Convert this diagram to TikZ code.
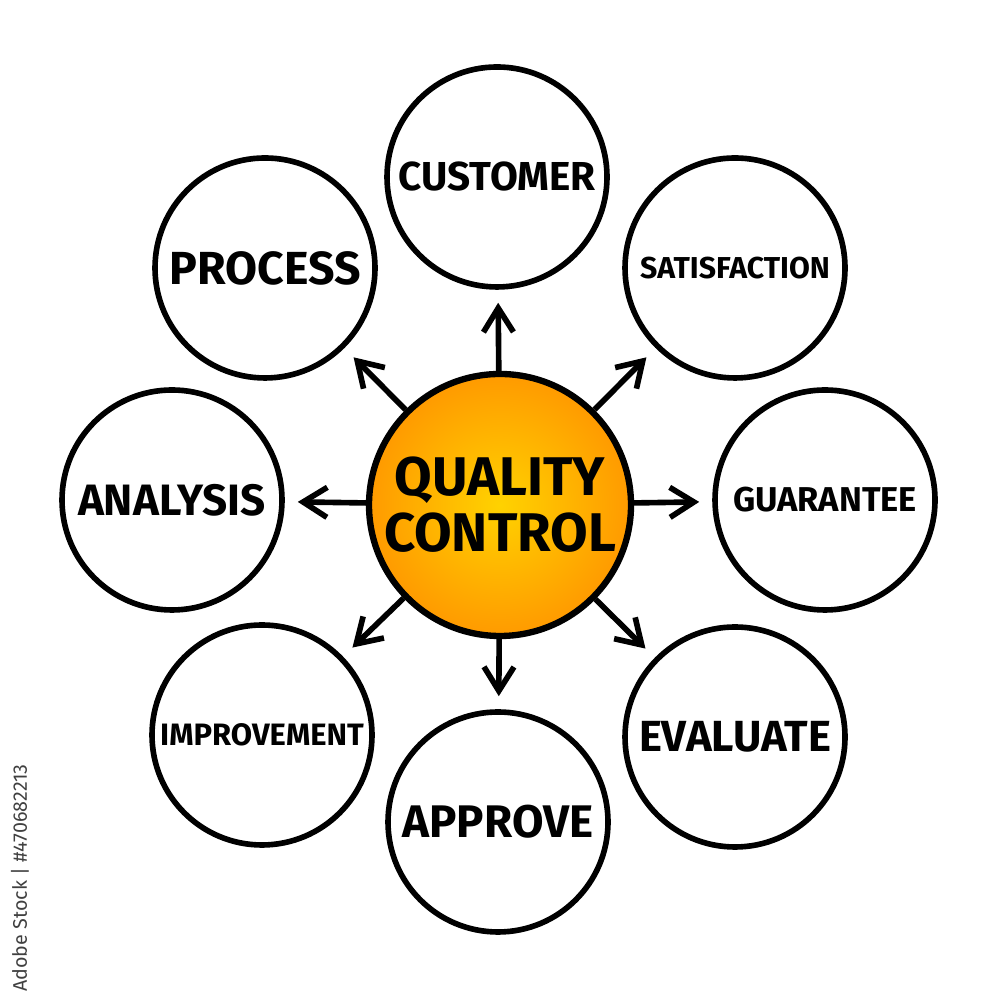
\documentclass[tikz,border=0pt]{standalone}
\usepackage{fontspec}
\setmainfont{Fira Sans}
\usetikzlibrary{arrows.meta}
\definecolor{qcorange}{HTML}{FF9A00}
\definecolor{qcyellow}{HTML}{FFD200}
\begin{document}
\begin{tikzpicture}[
    bubble/.style = {circle, draw, line width=1.6pt, minimum size=2.2cm, inner sep=0pt, font=\bfseries},
    hub/.style = {circle, draw, line width=1.8pt, minimum size=2.62cm, inner sep=0pt,
                  inner color=qcyellow, outer color=qcorange, align=center, font=\bfseries\fontsize{15.5}{17}\selectfont},
    spoke/.style = {line width=1.6pt, -{Straight Barb[length=2.4mm, width=3mm, line width=1.6pt]}, shorten >=1.3mm}
]
\useasboundingbox (0,0) rectangle (10,10);

\node[hub] (QC) at (5.00,4.95) {QUALITY\\[-1pt]CONTROL};

\node[bubble, font=\bfseries\fontsize{11.5}{13}\selectfont] (CUS) at (4.97,8.23) {CUSTOMER};
\node[bubble, font=\bfseries\fontsize{8.6}{10}\selectfont] (SAT) at (7.35,7.32) {SATISFACTION};
\node[bubble, font=\bfseries\fontsize{9.8}{11}\selectfont] (GUA) at (8.25,5.00) {GUARANTEE};
\node[bubble, font=\bfseries\fontsize{12.4}{14}\selectfont] (EVA) at (7.35,2.63) {EVALUATE};
\node[bubble, font=\bfseries\fontsize{13}{15}\selectfont] (APP) at (4.98,1.78) {APPROVE};
\node[bubble, font=\bfseries\fontsize{8.8}{10}\selectfont] (IMP) at (2.62,2.65) {IMPROVEMENT};
\node[bubble, font=\bfseries\fontsize{12.5}{14}\selectfont] (ANA) at (1.72,5.00) {ANALYSIS};
\node[bubble, font=\bfseries\fontsize{13.2}{15}\selectfont] (PRO) at (2.65,7.32) {PROCESS};

\draw[spoke] (QC) -- (CUS);
\draw[spoke] (QC) -- (SAT);
\draw[spoke] (QC) -- (GUA);
\draw[spoke] (QC) -- (EVA);
\draw[spoke] (QC) -- (APP);
\draw[spoke] (QC) -- (IMP);
\draw[spoke] (QC) -- (ANA);
\draw[spoke] (QC) -- (PRO);

\node[rotate=90, text=black!75, font=\fontsize{5.6}{7}\selectfont] (stock) at (0.2,1.22) {Adobe Stock | \#470682213};
\end{tikzpicture}
\end{document}
